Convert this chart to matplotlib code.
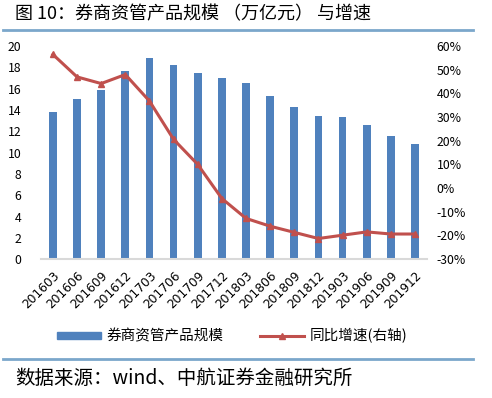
import matplotlib
matplotlib.use("Agg")
from matplotlib import pyplot as plt
from matplotlib.lines import Line2D
from matplotlib.patches import Patch
import numpy as np

plt.rcParams['font.family'] = ['Noto Sans CJK SC', 'DejaVu Sans']
plt.rcParams['axes.unicode_minus'] = False

quarters = ['201603', '201606', '201609', '201612', '201703', '201706', '201709', '201712',
            '201803', '201806', '201809', '201812', '201903', '201906', '201909', '201912']
scale = [13.8, 15.0, 15.9, 17.65, 18.9, 18.25, 17.5, 17.0,
         16.55, 15.3, 14.3, 13.45, 13.3, 12.6, 11.55, 10.8]
growth = [56.5, 47.0, 44.2, 48.0, 36.8, 20.6, 10.0, -4.4,
          -12.8, -16.1, -18.7, -21.3, -19.9, -18.5, -19.4, -19.4]

bar_color = '#4F81BD'
line_color = '#C0504D'
rule_color = '#7BA7CB'

fig = plt.figure(figsize=(4.92, 3.98), dpi=100)
ax = fig.add_axes([0.083, 0.349, 0.785, 0.535])
x = np.arange(len(quarters))
ax.bar(x, scale, width=0.32, color=bar_color, zorder=2)
ax.set_xlim(-0.5, len(quarters) - 0.5)
ax.set_ylim(0, 20)
ax.set_yticks(range(0, 21, 2))
ax.set_xticks(x)
ax.set_xticklabels(quarters, rotation=45, ha='right', rotation_mode='anchor',
                   fontsize=8.8, family='DejaVu Sans')
ax.tick_params(axis='x', length=0, pad=7)
ax.tick_params(axis='y', length=0, pad=14, labelsize=8.8)
for s in ['top', 'left', 'right']:
    ax.spines[s].set_visible(False)
ax.spines['bottom'].set_color('#D9D9D9')
ax.spines['bottom'].set_linewidth(1.5)

ax2 = ax.twinx()
ax2.plot(x, growth, color=line_color, lw=2.2, marker='^', markersize=5, zorder=3)
ax2.set_ylim(-30, 60)
ax2.set_yticks(range(-30, 61, 10))
ax2.set_yticklabels(['{}%'.format(v) for v in range(-30, 61, 10)])
ax2.tick_params(axis='y', length=0, pad=7, labelsize=8.8)
for s in ['top', 'left', 'right', 'bottom']:
    ax2.spines[s].set_visible(False)

handles = [Patch(color=bar_color),
           Line2D([], [], color=line_color, lw=2.2, marker='^', markersize=4)]
fig.legend(handles, ['券商资管产品规模', '同比增速(右轴)'], ncol=2, frameon=False,
           loc='center', bbox_to_anchor=(0.472, 0.156), fontsize=10.5,
           handlelength=3.0, handleheight=0.4, columnspacing=2.5, handletextpad=0.4)

fig.text(0.03, 0.965, '图 10：券商资管产品规模 （万亿元） 与增速', fontsize=13, va='center')
fig.add_artist(Line2D([0.006, 0.962], [1 - 30 / 398, 1 - 30 / 398], color=rule_color, lw=2))
fig.add_artist(Line2D([0.006, 0.962], [1 - 359 / 398, 1 - 359 / 398], color=rule_color, lw=2))
fig.text(0.03, 1 - 378 / 398, '数据来源：wind、中航证券金融研究所', fontsize=14, va='center')

fig.savefig('out.png', dpi=100)
